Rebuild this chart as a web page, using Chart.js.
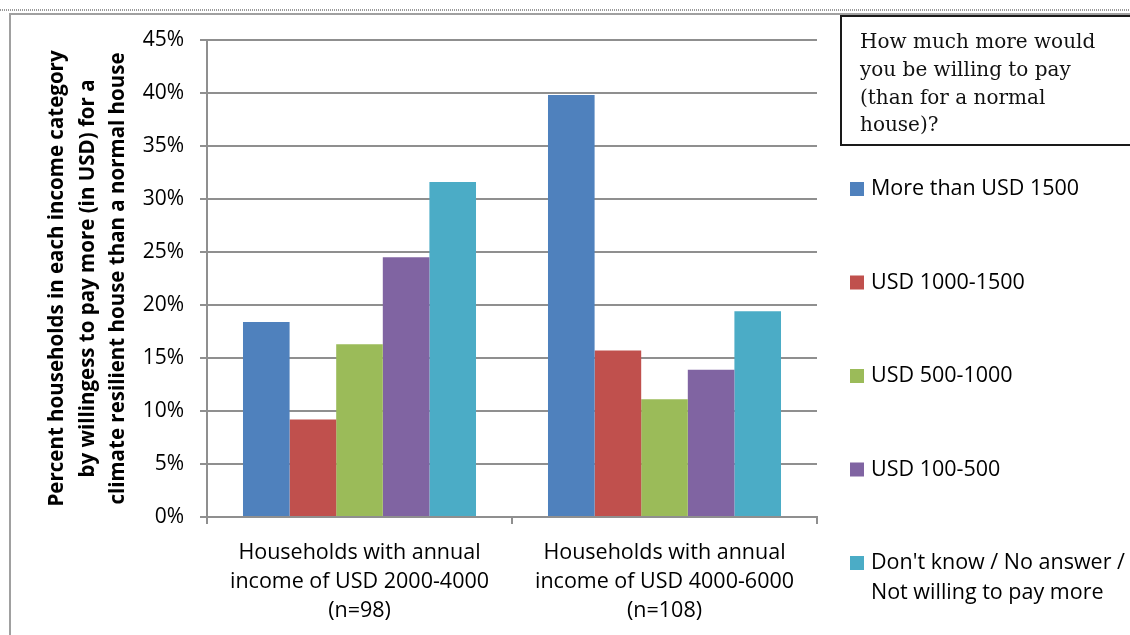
<!DOCTYPE html>
<html>
<head>
<meta charset="utf-8">
<script src="https://cdn.jsdelivr.net/npm/chart.js@4.4.1/dist/chart.umd.min.js"></script>
<style>
  html, body { margin: 0; background: #fff; }
  #wrap { width: 1130px; height: 635px; }
</style>
</head>
<body>
<div id="wrap"><canvas id="c" width="1130" height="635"></canvas></div>
<script>
const categories = [
  ['Households with annual', 'income of USD 2000-4000', '(n=98)'],
  ['Households with annual', 'income of USD 4000-6000', '(n=108)']
];
const seriesNames = [
  'More than USD 1500',
  'USD 1000-1500',
  'USD 500-1000',
  'USD 100-500',
  "Don't know / No answer /\nNot willing to pay more"
];
const seriesColors = ['#4F81BD', '#C0504D', '#9BBB59', '#8064A2', '#4BACC6'];

// percent of households per income group
const moreThan1500 = [18.4, 39.8];
const usd1000to1500 = [9.2, 15.7];
const usd500to1000 = [16.3, 11.1];
const usd100to500 = [24.5, 13.9];
const noAnswer = [31.6, 19.4];

const yTitle = [
  'Percent households in each income category',
  'by willingess to pay more (in USD) for a',
  'climate resilient house than a normal house'
];
const legendTitle = ['How much more would', 'you be willing to pay', '(than for a normal', 'house)?'];

const GRID = '#8f8f8f';
const SANS = '"Open Sans"';

const series = [moreThan1500, usd1000to1500, usd500to1000, usd100to500, noAnswer];

// outer frame of the chart object
const frame = {
  id: 'frame',
  beforeDraw(chart) {
    const ctx = chart.ctx;
    ctx.save();
    ctx.strokeStyle = '#9a9a9a';
    ctx.lineWidth = 2;
    ctx.setLineDash([1, 1]);
    ctx.beginPath();
    ctx.moveTo(0, 10); ctx.lineTo(1130, 10);
    ctx.stroke();
    ctx.setLineDash([]);
    ctx.strokeStyle = '#a0a0a0';
    ctx.beginPath();
    ctx.moveTo(10, 635); ctx.lineTo(10, 14); ctx.lineTo(1130, 14);
    ctx.stroke();
    ctx.restore();
  }
};

// legend on the right with the question box on top
const sideLegend = {
  id: 'sideLegend',
  afterDraw(chart) {
    const ctx = chart.ctx;
    ctx.save();
    ctx.strokeStyle = '#1a1a1a';
    ctx.lineWidth = 2;
    ctx.strokeRect(841, 16, 300, 129);
    ctx.fillStyle = '#111';
    ctx.textBaseline = 'middle';
    ctx.font = '20px "DejaVu Serif"';
    legendTitle.forEach((t, i) => ctx.fillText(t, 860, 43 + i * 27.7));

    ctx.font = '21.5px ' + SANS;
    chart.data.datasets.forEach((ds, i) => {
      const y = 189 + i * 93.5;
      ctx.fillStyle = ds.backgroundColor;
      ctx.fillRect(850, y - 7, 14, 14);
      ctx.fillStyle = '#000';
      ds.label.split('\n').forEach((line, k) => ctx.fillText(line, 871, y + k * 30));
    });
    ctx.restore();
  }
};

new Chart(document.getElementById('c'), {
  type: 'bar',
  data: {
    labels: categories,
    datasets: series.map((data, i) => ({
      label: seriesNames[i],
      data,
      backgroundColor: seriesColors[i],
      borderWidth: 0,
      categoryPercentage: 0.764,
      barPercentage: 1
    }))
  },
  options: {
    responsive: false,
    animation: false,
    layout: { padding: { top: 40, right: 313, left: 0, bottom: 0 } },
    plugins: { legend: { display: false }, tooltip: { enabled: false } },
    scales: {
      x: {
        grid: { drawOnChartArea: false, drawTicks: true, tickLength: 7, color: GRID, lineWidth: 2, offset: true },
        border: { color: GRID, width: 2 },
        ticks: { color: '#000', padding: 14, font: { family: SANS, size: 21.5, lineHeight: 29 / 21.5 } },
        afterFit: s => { s.height = 118; }
      },
      y: {
        min: 0, max: 45,
        ticks: {
          stepSize: 5, color: '#000', padding: 16,
          font: { family: SANS, size: 21 },
          callback: v => v + '%'
        },
        grid: { color: GRID, lineWidth: 2, tickLength: 7 },
        border: { color: GRID, width: 2 },
        title: {
          display: true, text: yTitle, color: '#000',
          font: { family: SANS, size: 20.5, weight: 'bold', lineHeight: 30.5 / 20.5 },
          padding: { top: 42, bottom: 0 }
        },
        afterFit: s => { s.width = 207; }
      }
    }
  },
  plugins: [frame, sideLegend]
});
</script>
</body>
</html>
